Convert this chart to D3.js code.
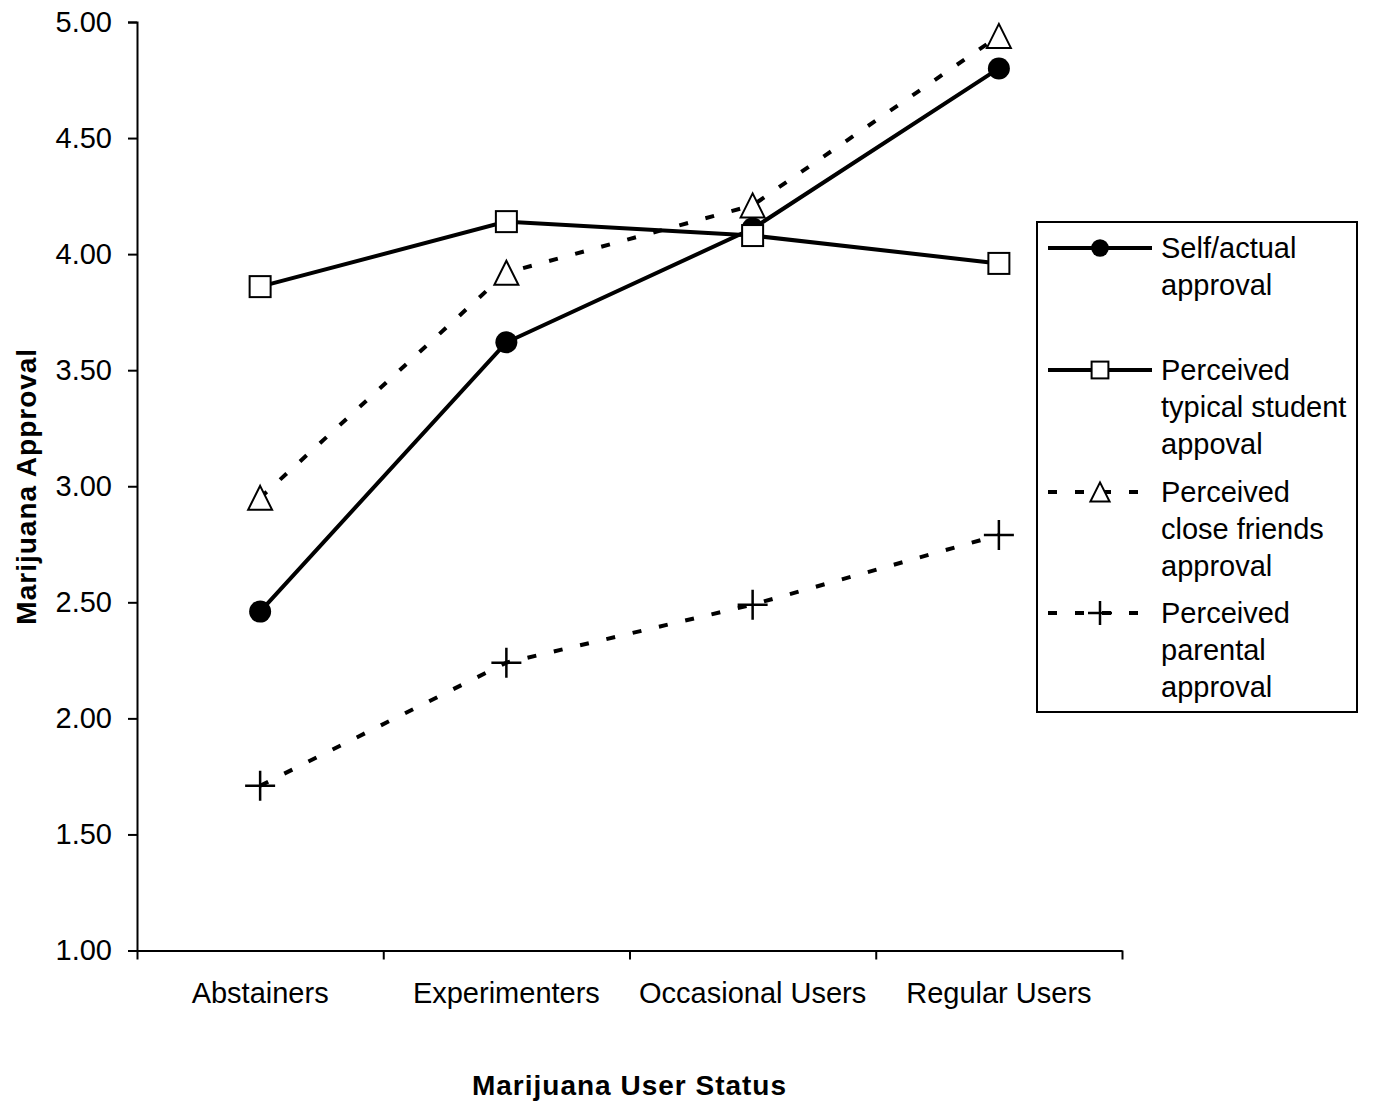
<!DOCTYPE html>
<html>
  <head>
    <meta charset="utf-8">
    <title>Marijuana Approval by User Status</title>
    <script src="https://d3js.org/d3.v7.min.js"></script>
    <style>
      body { margin: 0; background: #fff; }
      text { font-family: "Liberation Sans", Arial, sans-serif; fill: #000; }
    </style>
  </head>
  <body>
    <svg width="1373" height="1106"></svg>

    <script>
      // data
      const categories = ["Abstainers", "Experimenters", "Occasional Users", "Regular Users"];
      const selfApproval = [2.46, 3.62, 4.11, 4.80];
      const typicalStudent = [3.86, 4.14, 4.08, 3.96];
      const closeFriends = [2.95, 3.92, 4.21, 4.94];
      const parental = [1.71, 2.24, 2.49, 2.79];
      const yTicks = [1.00, 1.50, 2.00, 2.50, 3.00, 3.50, 4.00, 4.50, 5.00];

      const series = [
        { values: selfApproval, marker: "circle", dash: null,
          label: ["Self/actual", "approval"] },
        { values: typicalStudent, marker: "square", dash: null,
          label: ["Perceived", "typical student", "appoval"] },
        { values: closeFriends, marker: "triangle", dash: "9,18",
          label: ["Perceived", "close friends", "approval"] },
        { values: parental, marker: "plus", dash: "9,18",
          label: ["Perceived", "parental", "approval"] }
      ];

      const svg = d3.select("svg");
      const plotLeft = 137, plotRight = 1122, plotTop = 22, plotBottom = 950.5;

      const x = d3.scaleBand().domain(categories).range([plotLeft, plotRight]).padding(0);
      const y = d3.scaleLinear().domain([1, 5]).range([plotBottom, plotTop]);

      // ---- axes ----
      const yAxis = d3.axisLeft(y)
        .tickValues(yTicks)
        .tickFormat(d3.format(".2f"))
        .tickSizeOuter(0)
        .tickSize(9)
        .tickPadding(16);

      svg.append("g")
        .attr("transform", `translate(${plotLeft},0)`)
        .call(yAxis);

      // tick marks sit between categories
      const xEdges = d3.scaleLinear().domain([0, categories.length]).range([plotLeft, plotRight]);
      svg.append("g")
        .attr("transform", `translate(0,${plotBottom})`)
        .call(d3.axisBottom(xEdges).ticks(categories.length).tickFormat("").tickSize(9).tickSizeOuter(0));

      const gx = svg.append("g")
        .attr("transform", `translate(0,${plotBottom})`)
        .call(d3.axisBottom(x).tickSize(0).tickPadding(32));
      gx.select(".domain").remove();

      svg.selectAll(".domain, .tick line")
        .attr("stroke", "#000")
        .attr("stroke-width", 2);
      svg.selectAll(".tick text")
        .attr("font-size", 29)
        .attr("font-family", "Liberation Sans, Arial, sans-serif");

      // axis titles
      svg.append("text")
        .attr("x", (plotLeft + plotRight) / 2)
        .attr("y", 1095)
        .attr("text-anchor", "middle")
        .attr("font-size", 28)
        .attr("font-weight", "bold")
        .attr("letter-spacing", 1)
        .text("Marijuana User Status");

      svg.append("text")
        .attr("transform", `translate(36,${(plotTop + plotBottom) / 2}) rotate(-90)`)
        .attr("text-anchor", "middle")
        .attr("font-size", 28)
        .attr("font-weight", "bold")
        .attr("letter-spacing", 1)
        .text("Marijuana Approval");

      // ---- markers ----
      function drawMarker(g, type, cx, cy, k) {
        if (type === "circle") {
          g.append("circle").attr("cx", cx).attr("cy", cy).attr("r", 11 * k)
            .attr("fill", "#000");
        } else if (type === "square") {
          const s = 21 * k;
          g.append("rect").attr("x", cx - s / 2).attr("y", cy - s / 2)
            .attr("width", s).attr("height", s)
            .attr("fill", "#fff").attr("stroke", "#000").attr("stroke-width", 2);
        } else if (type === "triangle") {
          const w = 24 * k, h = 24 * k;
          g.append("path")
            .attr("d", `M${cx},${cy - h / 2}L${cx + w / 2},${cy + h / 2}L${cx - w / 2},${cy + h / 2}Z`)
            .attr("fill", "#fff").attr("stroke", "#000").attr("stroke-width", 2);
        } else if (type === "plus") {
          const s = 15 * k;
          g.append("path")
            .attr("d", `M${cx - s},${cy}H${cx + s}M${cx},${cy - s}V${cy + s}`)
            .attr("fill", "none").attr("stroke", "#000").attr("stroke-width", 2.5);
        }
      }

      const line = d3.line()
        .x((d, i) => x(categories[i]) + x.bandwidth() / 2)
        .y(d => y(d));

      series.forEach(s => {
        const g = svg.append("g");
        g.append("path")
          .datum(s.values)
          .attr("d", line)
          .attr("fill", "none")
          .attr("stroke", "#000")
          .attr("stroke-width", 4)
          .attr("stroke-dasharray", s.dash);
        s.values.forEach((v, i) => {
          drawMarker(g, s.marker, x(categories[i]) + x.bandwidth() / 2, y(v), 1);
        });
      });

      // ---- legend ----
      const legend = svg.append("g");
      legend.append("rect")
        .attr("x", 1037).attr("y", 222)
        .attr("width", 320).attr("height", 490)
        .attr("fill", "#fff").attr("stroke", "#000").attr("stroke-width", 2);

      const legendY = [248, 370, 492, 613];
      series.forEach((s, i) => {
        const ly = legendY[i];
        legend.append("line")
          .attr("x1", 1048).attr("x2", 1152)
          .attr("y1", ly).attr("y2", ly)
          .attr("stroke", "#000").attr("stroke-width", 4)
          .attr("stroke-dasharray", s.dash);
        drawMarker(legend, s.marker, 1100, ly, 0.8);
        const t = legend.append("text")
          .attr("x", 1161)
          .attr("y", ly + 10)
          .attr("font-size", 29);
        s.label.forEach((l, j) => {
          t.append("tspan").attr("x", 1161).attr("dy", j === 0 ? 0 : 37).text(l);
        });
      });
    </script>
  </body>
</html>
